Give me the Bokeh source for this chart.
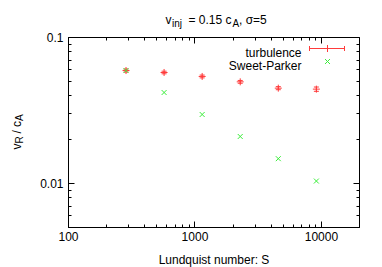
import math
from bokeh.plotting import figure
from bokeh.models import (ColumnDataSource, Whisker, TeeHead, FixedTicker, LogAxis,
                          CustomJSTickFormatter, Range1d)
from bokeh.core.properties import value
from bokeh.embed import file_html
from bokeh.resources import INLINE

# ---- data ----
lundquist = [285, 570, 1140, 2280, 4560, 9120]
turbulence = [0.0594, 0.0576, 0.0541, 0.0497, 0.0450, 0.0443]
turbulence_err = [0.0014, 0.0012, 0.0012, 0.0011, 0.0011, 0.0015]
sweet_parker = [0.0594, 0.0420, 0.0297, 0.0210, 0.0148, 0.0104]

x_major = [100, 1000, 10000]
x_minor = [200, 300, 400, 500, 600, 700, 800, 900,
           2000, 3000, 4000, 5000, 6000, 7000, 8000, 9000, 20000]
y_major = [0.01, 0.1]
y_minor = [0.005, 0.006, 0.007, 0.008, 0.009,
           0.02, 0.03, 0.04, 0.05, 0.06, 0.07, 0.08, 0.09]

RED = "#ff3b3b"
GREEN = "#3bee3b"
FONT = "Liberation Sans"

W, H = 382, 267
FL, FR, FT, FB = 68, 359, 37, 227          # frame edges in canvas pixels
BL, BR, BT, BB = FL, W - FR, FT, H - FB
X0, X1 = 100, 20000
Y0, Y1 = 0.005, 0.1

p = figure(width=W, height=H, x_axis_type="log", y_axis_type="log",
           x_range=Range1d(X0, X1), y_range=Range1d(Y0, Y1),
           output_backend="svg", toolbar_location=None, title=None,
           min_border_left=BL, min_border_right=BR, min_border_top=BT,
           min_border_bottom=BB)
p.xgrid.visible = False
p.ygrid.visible = False
p.outline_line_color = "black"
p.outline_line_alpha = 1.0
p.outline_line_width = 1
p.background_fill_color = "white"
p.border_fill_color = "white"

fmt = CustomJSTickFormatter(code="return String(tick)")
blank = CustomJSTickFormatter(code="return ''")


def style_axis(ax, labels=True):
    ax.major_tick_in = 6
    ax.major_tick_out = 0
    ax.minor_tick_in = 3
    ax.minor_tick_out = 0
    ax.axis_line_color = "black"
    ax.major_tick_line_color = "black"
    ax.minor_tick_line_color = "black"
    if labels:
        ax.major_label_text_font = FONT
        ax.major_label_text_font_size = "12px"
        ax.major_label_text_color = "black"
    else:
        ax.major_label_text_font_size = "0px"
        ax.major_label_standoff = 0
        ax.axis_line_color = None


xt = FixedTicker(ticks=x_major, minor_ticks=x_minor)
yt = FixedTicker(ticks=y_major, minor_ticks=y_minor)

xa = p.xaxis[0]
xa.ticker = xt
xa.formatter = fmt
style_axis(xa)
xa.major_label_standoff = 4

ya = p.yaxis[0]
ya.ticker = yt
ya.formatter = fmt
style_axis(ya)
ya.major_label_standoff = 5

top = LogAxis(ticker=xt, formatter=blank)
style_axis(top, labels=False)
p.add_layout(top, "above")
right = LogAxis(ticker=yt, formatter=blank)
style_axis(right, labels=False)
p.add_layout(right, "right")

# ---- data glyphs ----
src = ColumnDataSource(dict(
    x=lundquist, t=turbulence,
    lo=[v - e for v, e in zip(turbulence, turbulence_err)],
    hi=[v + e for v, e in zip(turbulence, turbulence_err)],
    sp=sweet_parker))

p.add_layout(Whisker(source=src, base="x", lower="lo", upper="hi",
                     line_color=RED, line_width=1,
                     upper_head=TeeHead(size=5, line_color=RED, line_width=1),
                     lower_head=TeeHead(size=5, line_color=RED, line_width=1)))
p.scatter("x", "t", source=src, marker="cross", size=7, line_color=RED, line_width=1)
p.scatter("x", "sp", source=src, marker="x", size=7, line_color=GREEN, line_width=1)

# ---- helpers: canvas pixel -> data coordinates (for text placement) ----
FW = FR - FL
FH = FB - FT


def dx(px):
    f = (px - FL) / FW
    return 10 ** (math.log10(X0) + f * (math.log10(X1) - math.log10(X0)))


def dy(py):
    f = (FB - py) / FH
    return 10 ** (math.log10(Y0) + f * (math.log10(Y1) - math.log10(Y0)))


def lab(text, px, py, size=12, angle=0.0, align="left"):
    p.text(x=[dx(px)], y=[dy(py)], text=[text], text_font=value(FONT),
           text_font_size=f"{size}px", text_color="black", text_align=align,
           text_baseline="alphabetic", angle=angle, level="overlay")


# title: v_inj = 0.15 c_A, σ=5
lab("v", 165, 19.5)
lab("inj", 171.5, 22.5, size=10)
lab("= 0.15 c", 188, 19.5)
lab("A", 232, 22.5, size=10)
lab(", \u03c3=5", 238.5, 19.5)

# y label: v_R / c_A (rotated)
R = math.pi / 2
lab("v", 16, 149, angle=R)
lab("R", 19, 143, size=10, angle=R)
lab("/", 16, 133, angle=R)
lab("c", 16, 126.5, angle=R)
lab("A", 19, 120.5, size=10, angle=R)

# x label
lab("Lundquist number: S", 213.5, 259.5, align="center")

# ---- legend ----
lab("turbulence", 301, 52.5, align="right")
lab("Sweet-Parker", 301, 65.5, align="right")
ly = dy(48)
p.segment(x0=[dx(309)], y0=[ly], x1=[dx(344)], y1=[ly], line_color=RED, line_width=1)
p.segment(x0=[dx(309), dx(344)], y0=[dy(45.5)] * 2, x1=[dx(309), dx(344)], y1=[dy(50.5)] * 2,
          line_color=RED, line_width=1)
p.scatter(x=[dx(327)], y=[ly], marker="cross", size=7, line_color=RED, line_width=1)
p.scatter(x=[dx(327)], y=[dy(61)], marker="x", size=7, line_color=GREEN, line_width=1)

open("out.html", "w").write(file_html(p, INLINE))
